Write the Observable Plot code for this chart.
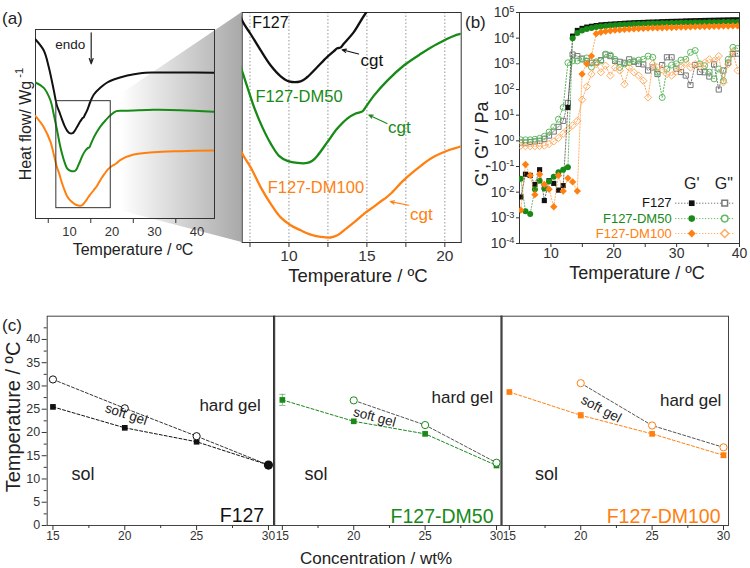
<!DOCTYPE html>
<html>
<head>
<meta charset="utf-8">
<script src="https://cdn.jsdelivr.net/npm/d3@7"></script>
<script src="https://cdn.jsdelivr.net/npm/@observablehq/plot@0.6"></script>
<style>
  body { margin: 0; background: #fff; }
  #fig { position: relative; width: 750px; height: 568px; overflow: hidden; background: #fff; }
</style>
</head>
<body>
<div id="fig"></div>
<script>
// ---------------- (a) DSC thermograms: temperature (°C) / heat flow (a.u.) ----------------
const dscF127T   = [2.0, 3.95, 5.13, 6.31, 7.01, 7.54, 8.19, 8.83, 9.47, 10.0, 10.75, 11.18, 11.82, 12.46, 12.88, 13.1, 13.31, 13.5, 14.17, 14.92, 15.73, 17.3, 18.87, 20.4, 23.6, 26.7, 29.8, 36.1, 44.0];
const dscF127HF  = [5.37, 5.04, 4.54, 3.84, 3.40, 3.22, 2.99, 2.78, 2.63, 2.56, 2.56, 2.62, 2.76, 2.90, 2.98, 3.02, 3.03, 3.08, 3.25, 3.51, 3.72, 3.93, 4.08, 4.17, 4.29, 4.36, 4.38, 4.38, 4.37];
const dscDM50T   = [2.0, 3.95, 5.53, 6.3, 7.01, 7.33, 7.76, 8.29, 8.83, 9.36, 9.90, 10.54, 11.18, 11.5, 11.82, 12.46, 13.10, 13.74, 14.28, 14.71, 14.92, 15.45, 16.31, 17.37, 18.44, 19.51, 21.0, 23.0, 25.1, 29.8, 36.1, 44.0];
const dscDM50HF  = [4.08, 3.92, 3.54, 3.12, 2.69, 2.48, 2.20, 1.92, 1.69, 1.52, 1.45, 1.42, 1.42, 1.45, 1.52, 1.71, 1.90, 2.04, 2.11, 2.14, 2.20, 2.36, 2.57, 2.78, 2.94, 3.08, 3.22, 3.23, 3.24, 3.26, 3.25, 3.20];
const dscDM100T  = [2.0, 3.95, 5.53, 6.3, 7.01, 7.54, 8.19, 8.83, 9.47, 10.11, 10.75, 11.39, 12.03, 12.67, 13.10, 13.53, 14.17, 14.81, 15.45, 15.99, 16.2, 16.52, 17.37, 18.23, 19.08, 20.15, 21.0, 22.0, 25.1, 29.8, 36.1, 44.0];
const dscDM100HF = [3.07, 2.74, 2.30, 1.92, 1.55, 1.36, 1.08, 0.85, 0.66, 0.55, 0.48, 0.42, 0.39, 0.38, 0.41, 0.48, 0.59, 0.71, 0.81, 0.90, 0.93, 0.99, 1.18, 1.34, 1.48, 1.59, 1.65, 1.76, 1.92, 1.99, 2.02, 2.04];
const boxT  = [6.9, 19.7];     // magnified window (temperature)
const boxHF = [0.31, 3.52];    // magnified window (heat flow)
const zoomTicks = [7.5, 10, 12.5, 15, 17.5, 20];

// ---------------- (b) oscillatory rheology: G' and G'' vs temperature ----------------
const rheoT = [5.2, 5.95, 6.7, 7.45, 8.2, 8.95, 9.7, 10.45, 11.2, 11.95, 12.7, 13.45, 14.2, 14.95, 15.7, 16.45, 17.2, 17.95, 18.7, 19.45, 20.2, 20.95, 21.7, 22.45, 23.2, 23.95, 24.7, 25.45, 26.2, 26.95, 27.7, 28.45, 29.2, 29.95, 30.7, 31.45, 32.2, 32.95, 33.7, 34.45, 35.2, 35.95, 36.7, 37.45, 38.2, 38.95, 39.7];
const gpF127   = [0.0065, 0.05, 0.045, 0.02, 0.075, 0.0047, 0.028, 0.022, 0.012, 0.018, 20, 12000, 20000, 24000, 27000, 29000, 31000, 33000, 34000, 35000, 36000, 37000, 38000, 39000, 40000, 40500, 41000, 42000, 42500, 43000, 44000, 44500, 45000, 45500, 46000, 47000, 47500, 48000, 48500, 49000, 49500, 50000, 50500, 51000, 51500, 52000, 52000];
const gpDM50   = [0.033, 0.0018, 0.0014, 0.013, 0.028, 0.014, 0.026, 0.04, 0.06, 0.075, 0.093, 10000, 16000, 20000, 23000, 25000, 27000, 28500, 30000, 31000, 32000, 33000, 33500, 34000, 35000, 35500, 36000, 36500, 37000, 37500, 38000, 38500, 39000, 39000, 39500, 40000, 40000, 40500, 41000, 41000, 41500, 42000, 42000, 42500, 43000, 43000, 43000];
const gpDM100  = [0.002, 0.12, 0.045, 0.008, 0.05, 0.02, 0.013, 0.0027, 0.045, 0.011, 0.035, 0.025, 0.011, 400, 1000, 2000, 15000, 17000, 18500, 19500, 20500, 21000, 22000, 22500, 23000, 23500, 24000, 24500, 25000, 25000, 25500, 26000, 26000, 26500, 27000, 27000, 27500, 28000, 28000, 28500, 28500, 29000, 29000, 29500, 29500, 30000, 30000];
const gppF127  = [0.85, 0.85, 0.9, 0.95, 1.0, 1.2, 1.6, 2.3, 3.5, 6, 30, 2300, 2000, 1600, 1300, 1100, 1100, 1400, 2300, 2000, 1300, 1200, 1100, 1500, 1200, 1000, 950, 550, 720, 400, 900, 1800, 1800, 650, 480, 350, 150, 900, 480, 470, 320, 950, 100, 550, 1100, 2400, 2500];
const gppDM50  = [1.1, 1.1, 1.1, 1.15, 1.25, 1.5, 2.2, 3.5, 7, 20, 1100, 1300, 1300, 1500, 1700, 750, 1200, 1300, 2400, 2200, 1500, 720, 1000, 1100, 1300, 1400, 1500, 2000, 1800, 470, 49, 630, 900, 1000, 1400, 1500, 2800, 3300, 1000, 850, 470, 260, 630, 220, 1500, 4400, 4000];
const gppDM100 = [0.65, 0.62, 0.62, 0.62, 0.63, 0.65, 0.75, 0.95, 1.3, 1.9, 2.8, 4, 6, 40, 130, 400, 980, 470, 850, 350, 720, 550, 160, 720, 470, 350, 220, 49, 980, 720, 600, 400, 350, 500, 720, 1100, 720, 980, 800, 1100, 1500, 1300, 2000, 190, 980, 3000, 550];
const decades = [1e-4, 1e-3, 1e-2, 1e-1, 1, 1e1, 1e2, 1e3, 1e4, 1e5];
const rheoTicks = [10, 15, 20, 25, 30, 35, 40];

// ---------------- (c) phase diagrams: transition temperature (°C) vs concentration (wt%) ----------------
const conc      = [15, 20, 25, 30];
const concMinor = [17.5, 22.5, 27.5];
const softF127  = [25.5, 21.0, 18.0, 13.0];
const hardF127  = [31.4, 25.2, 19.2, 13.0];
const softDM50  = [27.0, 22.4, 19.7, 12.9];
const hardDM50  = [null, 26.9, 21.6, 13.5];
const errDM50   = [1.2, 0, 0, 0];
const softDM100 = [28.7, 23.7, 19.7, 15.1];
const hardDM100 = [null, 30.6, 21.5, 16.8];
const errDM100  = [0, 0.6, 0, 0.5];
const errNone   = [0, 0, 0, 0];
const tempTicks = [0, 5, 10, 15, 20, 25, 30, 35, 40];
const tempMinor = [2.5, 7.5, 12.5, 17.5, 22.5, 27.5, 32.5, 37.5, 42.5];

// ---------------- shared look ----------------
const FONT = '"Liberation Sans", Arial, Helvetica, sans-serif';
const INK = "#222";
const GREEN = "#178a17";
const ORANGE = "#ff8010";
const fig = document.getElementById("fig");

function place(el, left, top) {
  el.style.position = "absolute";
  el.style.left = left + "px";
  el.style.top = top + "px";
  fig.appendChild(el);
  return el;
}
function baseStyle(size) {
  return {fontFamily: FONT, fontSize: size + "px", color: INK, background: "transparent", overflow: "visible"};
}
const rowsOf = (T, V) => T.map((t, i) => ({T: t, V: V[i]}));

const dscSeries = [
  {name: "F127", color: "#111", rows: rowsOf(dscF127T, dscF127HF)},
  {name: "F127-DM50", color: GREEN, rows: rowsOf(dscDM50T, dscDM50HF)},
  {name: "F127-DM100", color: ORANGE, rows: rowsOf(dscDM100T, dscDM100HF)}
];

// ---------- (a) full thermograms ----------
const aMain = Plot.plot({
  width: 240, height: 290,
  marginLeft: 35, marginRight: 26, marginTop: 29, marginBottom: 72,
  x: {domain: [2, 44.1]},
  y: {domain: [0, 5.67], axis: null},
  style: baseStyle(13),
  marks: [
    Plot.frame({stroke: "#333"}),
    Plot.axisX({ticks: [5, 15, 25, 35], tickSize: 5, tickFormat: () => "", label: null, stroke: "#333"}),
    Plot.axisX({ticks: [10, 20, 30, 40], tickSize: 0, tickPadding: 8, fontSize: 13, label: null, fill: "#333"}),
    ...dscSeries.map(s => Plot.line(s.rows, {x: "T", y: "V", stroke: s.color, strokeWidth: 2, curve: "catmull-rom", clip: true})),
    Plot.rect([{t0: boxT[0], t1: boxT[1], h0: boxHF[0], h1: boxHF[1]}],
      {x1: "t0", x2: "t1", y1: "h0", y2: "h1", stroke: "#333", strokeWidth: 1, fill: "none"}),
    Plot.text([{x: 10.2, y: 5.22, t: "endo"}], {x: "x", y: "y", text: "t", fontSize: 13.5, fill: INK}),
    Plot.arrow([{x: 15.1, y1: 5.57, y2: 4.64}], {x1: "x", x2: "x", y1: "y1", y2: "y2", stroke: INK, strokeWidth: 1.2, headLength: 7, headAngle: 40})
  ]
});

// ---------- (a) magnified window ----------
const aZoom = Plot.plot({
  width: 260, height: 290,
  marginLeft: 11.7, marginRight: 29.3, marginTop: 12, marginBottom: 48,
  x: {domain: [7, 21.05]},
  y: {domain: boxHF, axis: null},
  style: baseStyle(16),
  marks: [
    Plot.ruleX(zoomTicks, {stroke: "#8a8a8a", strokeWidth: 0.9, strokeDasharray: "1.5,2"}),
    Plot.frame({stroke: "#333"}),
    Plot.axisX({ticks: zoomTicks, tickSize: 5, tickPadding: 2, fontSize: 15.5, tickFormat: d => (d % 5 === 0 ? d : ""), label: null, stroke: "#333", fill: "#333"}),
    ...dscSeries.map(s => Plot.line(s.rows, {x: "T", y: "V", stroke: s.color, strokeWidth: 2.3, curve: "catmull-rom", clip: true})),
    Plot.text([{x: 7.64, y: 3.37, t: "F127"}], {x: "x", y: "y", text: "t", textAnchor: "start", fontSize: 16, fill: "#111"}),
    Plot.text([{x: 7.85, y: 2.35, t: "F127-DM50"}], {x: "x", y: "y", text: "t", textAnchor: "start", fontSize: 16.5, fill: GREEN}),
    Plot.text([{x: 8.64, y: 1.08, t: "F127-DM100"}], {x: "x", y: "y", text: "t", textAnchor: "start", fontSize: 16.5, fill: ORANGE}),
    Plot.text([{x: 15.32, y: 2.85, t: "cgt"}], {x: "x", y: "y", text: "t", fontSize: 17, fill: "#111"}),
    Plot.text([{x: 17.08, y: 1.91, t: "cgt"}], {x: "x", y: "y", text: "t", fontSize: 17, fill: GREEN}),
    Plot.text([{x: 18.49, y: 0.70, t: "cgt"}], {x: "x", y: "y", text: "t", fontSize: 17, fill: ORANGE}),
    Plot.arrow([{x1: 14.47, y1: 2.94, x2: 13.41, y2: 3.0}], {x1: "x1", y1: "y1", x2: "x2", y2: "y2", stroke: "#111", strokeWidth: 1.1, headLength: 6, headAngle: 45}),
    Plot.arrow([{x1: 16.29, y1: 1.97, x2: 15.12, y2: 2.09}], {x1: "x1", y1: "y1", x2: "x2", y2: "y2", stroke: GREEN, strokeWidth: 1.1, headLength: 6, headAngle: 45}),
    Plot.arrow([{x1: 17.68, y1: 0.83, x2: 16.5, y2: 0.88}], {x1: "x1", y1: "y1", x2: "x2", y2: "y2", stroke: ORANGE, strokeWidth: 1.1, headLength: 6, headAngle: 45})
  ]
});

// connector wedge between the magnified window and the zoom panel
const sxA = aMain.scale("x"), syA = aMain.scale("y");
const wedgeX0 = sxA.apply(boxT[1]);
const wedgeTop0 = syA.apply(boxHF[1]), wedgeBot0 = syA.apply(boxHF[0]);
const zoomLeft = 230 + 11.7, zoomTop = 12, zoomBottom = 242;
const wedge = d3.create("svg").attr("width", 750).attr("height", 300);
const grad = wedge.append("defs").append("linearGradient").attr("id", "wedgeFade")
  .attr("gradientUnits", "userSpaceOnUse").attr("x1", wedgeX0 + 10).attr("x2", zoomLeft).attr("y1", 0).attr("y2", 0);
grad.append("stop").attr("offset", 0).attr("stop-color", "#ffffff");
grad.append("stop").attr("offset", 1).attr("stop-color", "#a9a9a9");
wedge.append("polygon")
  .attr("points", [[wedgeX0, wedgeTop0], [zoomLeft, zoomTop], [zoomLeft, zoomBottom], [wedgeX0, wedgeBot0]].map(p => p.join(",")).join(" "))
  .attr("fill", "url(#wedgeFade)");
place(wedge.node(), 0, 0);
place(aMain, 0, 0);
place(aZoom, 230, 0);

// ---------- (b) rheology ----------
const rheo = [
  {name: "F127", gp: gpF127, gpp: gppF127, color: "#111", light: "#777", sym: "square", r: 2.9},
  {name: "F127-DM50", gp: gpDM50, gpp: gppDM50, color: GREEN, light: "#62b962", sym: "circle", r: 3},
  {name: "F127-DM100", gp: gpDM100, gpp: gppDM100, color: ORANGE, light: "#ffad62", sym: "diamond2", r: 3.3}
];
rheo.forEach(s => { s.rows = rheoT.map((t, i) => ({T: t, gp: s.gp[i], gpp: s.gpp[i]})); });

const supDigits = {"0": "⁰", "1": "¹", "2": "²", "3": "³", "4": "⁴", "5": "⁵", "6": "⁶", "7": "⁷", "8": "⁸", "9": "⁹", "-": "⁻"};
const fromSup = Object.fromEntries(Object.entries(supDigits).map(([k, v]) => [v, k]));
const powerLabel = d => "10" + String(Math.round(Math.log10(d))).split("").map(c => supDigits[c]).join("");

const legendLogY = [-2.43, -3.03, -3.61];
const legendRows = rheo.map((s, i) => ({...s, y: Math.pow(10, legendLogY[i])}));
const headerY = Math.pow(10, -1.66);

const bPlot = Plot.plot({
  width: 260, height: 290,
  marginLeft: 29, marginRight: 11, marginTop: 12, marginBottom: 47,
  x: {domain: [5, 40]},
  y: {type: "log", domain: [1e-4, 1e5]},
  style: baseStyle(14),
  marks: [
    Plot.frame({stroke: "#333"}),
    Plot.axisX({ticks: rheoTicks, tickSize: 4, tickPadding: 1, fontSize: 14, tickFormat: d => (d % 10 === 0 ? d : ""), label: null, stroke: "#333", fill: "#333"}),
    Plot.axisY({ticks: decades, tickSize: 3, tickPadding: 2, fontSize: 14, tickFormat: powerLabel, label: null, stroke: "#333", fill: "#333"}),
    // loss modulus G'' (open symbols)
    ...rheo.flatMap(s => [
      Plot.line(s.rows, {x: "T", y: "gpp", stroke: s.light, strokeWidth: 1, strokeDasharray: "1.3,1.7", clip: true}),
      Plot.dot(s.rows, {x: "T", y: "gpp", symbol: s.sym, r: s.r, stroke: s.light, strokeWidth: 1, fill: "none", clip: true})
    ]),
    // storage modulus G' (filled symbols)
    ...rheo.flatMap(s => [
      Plot.line(s.rows, {x: "T", y: "gp", stroke: s.color, strokeOpacity: 0.6, strokeWidth: 1, strokeDasharray: "1.3,1.7", clip: true}),
      Plot.dot(s.rows, {x: "T", y: "gp", symbol: s.sym, r: s.r, fill: s.color, stroke: "none", clip: true})
    ]),
    // legend
    Plot.text(["G'", 'G"'], {x: (d, i) => (i === 0 ? 32.4 : 37.5), y: headerY, text: d => d, fontSize: 16, fill: INK}),
    Plot.link(legendRows, {x1: 29.75, x2: 34.5, y1: "y", y2: "y", stroke: d => d.color, strokeDasharray: "1.3,1.7", strokeOpacity: 0.6}),
    Plot.link(legendRows, {x1: 34.5, x2: 39.2, y1: "y", y2: "y", stroke: d => d.light, strokeDasharray: "1.3,1.7"}),
    ...legendRows.map(s => Plot.dot([s], {x: 32.4, y: "y", symbol: s.sym, r: s.r + 0.3, fill: s.color})),
    ...legendRows.map(s => Plot.dot([s], {x: 37.65, y: "y", symbol: s.sym, r: s.r + 0.3, stroke: s.light, fill: "white"})),
    ...legendRows.map(s => Plot.text([s], {x: 29.2, y: "y", text: "name", textAnchor: "end", fontSize: 13, fill: s.color}))
  ]
});
// typeset decade labels with a raised exponent
d3.select(bPlot).selectAll("text").each(function () {
  const s = this.textContent;
  if (/^10[⁰¹²³⁴⁵⁶⁷⁸⁹⁻]+$/.test(s)) {
    const exp = [...s.slice(2)].map(c => fromSup[c]).join("");
    const t = d3.select(this);
    t.text("10");
    t.append("tspan").attr("dy", "-0.5em").attr("font-size", "0.66em").text(exp);
  }
});
place(bPlot, 490, 0);

// ---------- (c) phase diagrams ----------
function phasePanel(p) {
  const rows = conc.map((c, i) => ({c, soft: p.soft[i], hard: p.hard[i], err: p.err[i]}));
  const hardRows = rows.filter(d => d.hard != null);
  const merged = rows.filter(d => d.hard != null && d.hard === d.soft);
  const softPts = rows.filter(d => !merged.includes(d));
  const hardPts = hardRows.filter(d => !merged.includes(d));
  const errRows = rows.filter(d => d.err > 0);
  const ml = p.leftAxis ? 46.7 : 12;
  const marks = [
    Plot.frame({stroke: "#444", strokeWidth: 1}),
    Plot.axisX({ticks: conc, tickSize: 5, tickPadding: 1, fontSize: 12, label: null, stroke: "#333", fill: "#333"}),
    Plot.axisX({ticks: concMinor, tickSize: 3, tickFormat: () => "", label: null, stroke: "#333"})
  ];
  if (p.leftAxis) {
    marks.push(
      Plot.axisY({ticks: tempTicks, tickSize: 5, tickPadding: 2, fontSize: 12.5, label: null, stroke: "#333", fill: "#333"}),
      Plot.axisY({ticks: tempMinor, tickSize: 3, tickFormat: () => "", label: null, stroke: "#333"})
    );
  }
  if (p.divider) marks.push(Plot.ruleX([p.domain[1]], {stroke: "#111", strokeWidth: 2}));
  marks.push(
    Plot.line(rows, {x: "c", y: "soft", stroke: p.color, strokeWidth: 1, strokeDasharray: "3,2"}),
    Plot.line(hardRows, {x: "c", y: "hard", stroke: p.hardLine, strokeWidth: 1, strokeDasharray: "3,2"}),
    Plot.ruleX(errRows, {x: "c", y1: d => d.soft - d.err, y2: d => d.soft + d.err, stroke: p.color, strokeOpacity: 0.5}),
    Plot.link(errRows, {x1: d => d.c - 0.22, x2: d => d.c + 0.22, y1: d => d.soft + d.err, y2: d => d.soft + d.err, stroke: p.color, strokeOpacity: 0.5}),
    Plot.link(errRows, {x1: d => d.c - 0.22, x2: d => d.c + 0.22, y1: d => d.soft - d.err, y2: d => d.soft - d.err, stroke: p.color, strokeOpacity: 0.5}),
    Plot.dot(softPts, {x: "c", y: "soft", symbol: "square", r: 3.2, fill: p.color}),
    Plot.dot(hardPts, {x: "c", y: "hard", symbol: "circle", r: 3.6, stroke: p.color, strokeWidth: 1, fill: "white"}),
    Plot.dot(merged, {x: "c", y: "soft", symbol: "circle", r: 4.6, fill: p.color}),
    Plot.text([{x: p.hardPos[0], y: p.hardPos[1], t: "hard gel"}], {x: "x", y: "y", text: "t", fontSize: 17, fill: INK}),
    Plot.text([{x: p.solPos[0], y: p.solPos[1], t: "sol"}], {x: "x", y: "y", text: "t", fontSize: 18, fill: INK}),
    Plot.text([{x: p.softPos[0], y: p.softPos[1], t: "soft gel"}], {x: "x", y: "y", text: "t", fontSize: 13.5, rotate: p.softPos[2], fill: INK}),
    Plot.text([p.name], {frameAnchor: "bottom-right", text: d => d, textAnchor: "end", lineAnchor: "bottom", dx: -p.nameInset, dy: -3, fontSize: 19.5, fill: p.nameColor})
  );
  return Plot.plot({
    width: ml + 227 + 12, height: 278,
    marginLeft: ml, marginRight: 12, marginTop: 25.7, marginBottom: 43,
    x: {domain: p.domain},
    y: p.leftAxis ? {domain: [0, 45]} : {domain: [0, 45], axis: null},
    style: baseStyle(12.5),
    marks
  });
}
place(phasePanel({soft: softF127, hard: hardF127, err: errNone, color: "#111", hardLine: "#333", name: "F127", nameColor: "#111", nameInset: 10,
  domain: [14.6, 30.4], leftAxis: true, divider: true, hardPos: [27.33, 25.8], solPos: [17.1, 11], softPos: [20.1, 23.9, 18]}), 0, 290);
place(phasePanel({soft: softDM50, hard: hardDM50, err: errDM50, color: GREEN, hardLine: "#555", name: "F127-DM50", nameColor: GREEN, nameInset: 8,
  domain: [14.45, 30.35], leftAxis: false, divider: true, hardPos: [27.6, 27.5], solPos: [17.35, 11], softPos: [21.46, 23.3, 15]}), 273.7 - 12, 290);
place(phasePanel({soft: softDM100, hard: hardDM100, err: errDM100, color: ORANGE, hardLine: "#555", name: "F127-DM100", nameColor: ORANGE, nameInset: 8,
  domain: [14.45, 30.35], leftAxis: false, divider: false, hardPos: [27.7, 26.9], solPos: [17.6, 11], softPos: [21.43, 25.05, 28]}), 500.7 - 12, 290);

// ---------- panel letters and axis titles ----------
const over = d3.create("svg").attr("width", 750).attr("height", 568)
  .style("font-family", FONT).style("pointer-events", "none");
function title(txt, x, y, size, opts = {}) {
  const t = over.append("text").attr("x", x).attr("y", y).attr("font-size", size)
    .attr("text-anchor", opts.anchor || "middle").attr("fill", opts.fill || INK);
  if (opts.rotate) t.attr("transform", `rotate(${opts.rotate},${x},${y})`).attr("dominant-baseline", "central");
  t.text(txt);
  return t;
}
title("(a)", 2, 24, 17, {anchor: "start"});
title("(b)", 465, 28, 17, {anchor: "start"});
title("(c)", 2, 331, 17, {anchor: "start"});
title("Temperature / ºC", 133, 255, 16);
title("Temperature / ºC", 358, 282, 18.5);
title("Temperature / ºC", 637, 279, 18);
title("Concentration / wt%", 376, 564, 17);
const hf = title("Heat flow/ Wg", 25, 124, 16, {rotate: -90});
hf.append("tspan").attr("dy", "-0.5em").attr("font-size", "0.7em").text(" -1");
title('G\', G" / Pa', 482, 144, 18, {rotate: -90});
title("Temperature / ºC", 13, 417, 20, {rotate: -90});
place(over.node(), 0, 0);
</script>
</body>
</html>
